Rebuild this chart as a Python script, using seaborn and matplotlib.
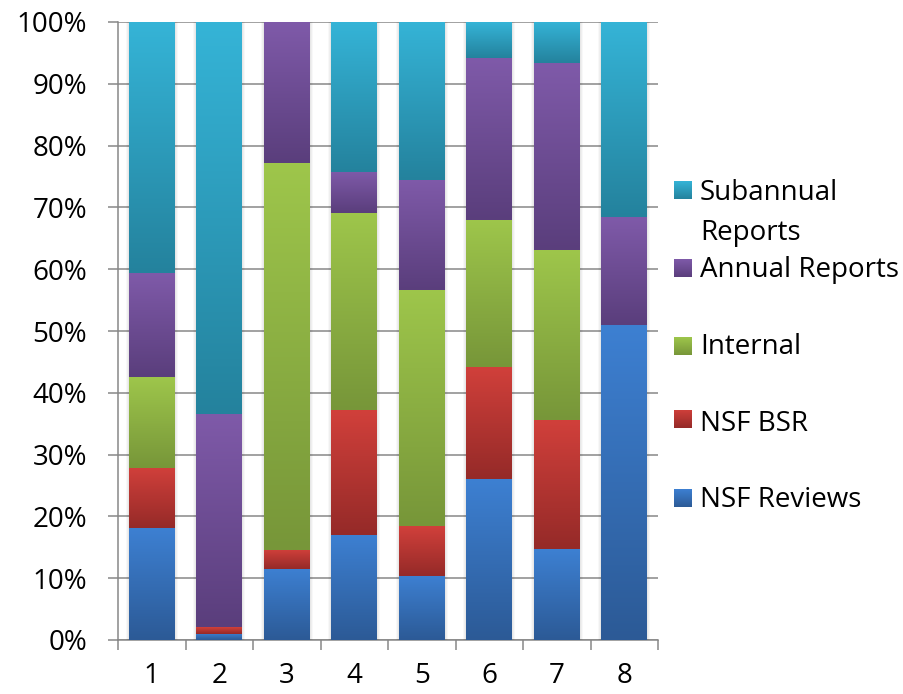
import numpy as np
import pandas as pd
import seaborn as sns
import matplotlib
matplotlib.use("Agg")
import matplotlib.pyplot as plt
from matplotlib.colors import LinearSegmentedColormap
from matplotlib.patches import Rectangle
from matplotlib.ticker import FuncFormatter, MultipleLocator, FixedLocator
import matplotlib.transforms as mtransforms

# ---- data (percent of total per group) ----
groups = ["1", "2", "3", "4", "5", "6", "7", "8"]
nsf_reviews = [18.1, 1.0, 11.5, 17.0, 10.4, 26.0, 14.7, 51.0]
nsf_bsr = [9.8, 1.1, 3.1, 20.2, 8.0, 18.2, 20.9, 0.0]
internal = [14.7, 0.0, 62.6, 31.9, 38.2, 23.8, 27.5, 0.0]
annual_reports = [16.8, 34.5, 22.8, 6.7, 17.8, 26.2, 30.2, 17.4]
subannual_reports = [40.6, 63.4, 0.0, 24.2, 25.6, 5.8, 6.7, 31.6]

series_names = ["NSF Reviews", "NSF BSR", "Internal", "Annual Reports", "Subannual\nReports"]
series_values = [nsf_reviews, nsf_bsr, internal, annual_reports, subannual_reports]
# (top, bottom) colours of each segment's vertical gradient
series_colors = [
    ("#3d80d2", "#2c5a96"),
    ("#d1403b", "#952a28"),
    ("#9ec64b", "#779639"),
    ("#7f5aa9", "#5a3e7c"),
    ("#35b4d7", "#24829d"),
]

sns.set_theme(style="white")
plt.rcParams["font.family"] = ["Open Sans", "DejaVu Sans"]

W, H = 904, 694
fig = plt.figure(figsize=(W / 100, H / 100), dpi=100)
ax = fig.add_axes([118 / W, 1 - 640 / H, (658 - 118) / W, (640 - 22) / H])

grid_color = "#878787"
bar_width = 0.68

# stacked bars through seaborn, one layer per series
layers = []
bottom = np.zeros(len(groups))
for name, vals in zip(series_names, series_values):
    df = pd.DataFrame({"group": groups, "share": vals})
    n_before = len(ax.patches)
    sns.barplot(data=df, x="group", y="share", order=groups, bottom=bottom,
                width=bar_width, errorbar=None, color=series_colors[0][0], ax=ax)
    layers.append(list(ax.patches[n_before:]))
    bottom = bottom + np.asarray(vals)

# faint soft shadow around every column
for i in range(len(groups)):
    x0 = i - bar_width / 2
    for k in range(1, 4):
        tr = mtransforms.offset_copy(ax.transData, fig=fig, x=0, y=-1, units="dots")
        sh = Rectangle((x0, 0), bar_width, 100, transform=tr, facecolor="none",
                       edgecolor="black", linewidth=k * 1.4, alpha=0.03, zorder=1.5)
        ax.add_patch(sh)

# replace flat faces with top-to-bottom gradients
grad = np.linspace(0, 1, 256).reshape(-1, 1)
for patches, (c_top, c_bot) in zip(layers, series_colors):
    cmap = LinearSegmentedColormap.from_list("g", [c_bot, c_top])
    for p in patches:
        x, y = p.get_x(), p.get_y()
        w, h = p.get_width(), p.get_height()
        p.set_visible(False)
        if h <= 0:
            continue
        ax.imshow(grad, extent=[x, x + w, y, y + h], origin="lower", cmap=cmap,
                  aspect="auto", interpolation="bilinear", zorder=2)

ax.set_xlim(-0.5, len(groups) - 0.5)
ax.set_ylim(0, 100)
ax.set_xlabel("")
ax.set_ylabel("")

# grid and axes styling
ax.yaxis.set_major_locator(MultipleLocator(10))
ax.yaxis.set_major_formatter(FuncFormatter(lambda v, _: f"{v:.0f}%"))
ax.grid(axis="y", color=grid_color, linewidth=1.1, zorder=0.5)
ax.grid(axis="x", visible=False)
ax.set_axisbelow(True)
for s in ["top", "right"]:
    ax.spines[s].set_visible(False)
for s in ["left", "bottom"]:
    ax.spines[s].set_color(grid_color)
    ax.spines[s].set_linewidth(1.1)
    ax.spines[s].set_zorder(0.6)

ax.tick_params(axis="y", which="major", direction="out", length=7.2, width=1.1,
               color=grid_color, pad=15, labelsize=20, labelcolor="black", left=True)
ax.xaxis.set_major_locator(FixedLocator(range(len(groups))))
ax.set_xticklabels(groups)
ax.xaxis.set_minor_locator(FixedLocator(np.arange(len(groups) + 1) - 0.5))
ax.tick_params(axis="x", which="major", length=0, pad=16, labelsize=20, labelcolor="black",
               bottom=True)
ax.tick_params(axis="x", which="minor", direction="out", length=7.2, width=1.1,
               color=grid_color, bottom=True)

# legend drawn entry by entry (top to bottom)
legend_rows = [
    ("Subannual", 200, 181, 4),
    ("Reports", 240, None, None),
    ("Annual Reports", 277, 259, 3),
    ("Internal", 354, 337, 2),
    ("NSF BSR", 431, 410, 1),
    ("NSF Reviews", 507, 489, 0),
]
for text, baseline, box_top, idx in legend_rows:
    fig.text(700 / W, 1 - baseline / H, text, fontsize=20, color="black",
             ha="left", va="baseline")
    if box_top is not None:
        c_top, c_bot = series_colors[idx]
        lax = fig.add_axes([674 / W, 1 - (box_top + 18) / H, 18 / W, 18 / H])
        lax.imshow(grad, origin="lower", aspect="auto",
                   cmap=LinearSegmentedColormap.from_list("l", [c_bot, c_top]))
        lax.set_axis_off()

fig.savefig("out.png", dpi=100)
